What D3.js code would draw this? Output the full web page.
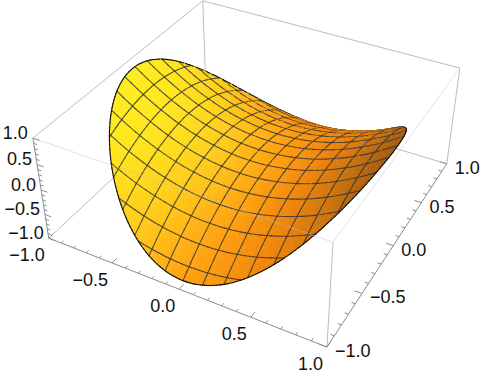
<!DOCTYPE html>
<html>
<head>
<meta charset="utf-8">
<script src="https://cdn.jsdelivr.net/npm/d3@7"></script>
<style>
  html, body { margin: 0; padding: 0; background: #fff; }
  text { font-family: "Liberation Sans", Arial, sans-serif; font-size: 18px; fill: #111; }
</style>
</head>
<body>
<svg width="482" height="375"></svg>
<script>
// values
const majorTicks  = [-1, -0.5, 0, 0.5, 1];
const tickLabels  = ["\u22121.0", "\u22120.5", "0.0", "0.5", "1.0"];
const minorTicks  = [-0.9, -0.8, -0.7, -0.6, -0.4, -0.3, -0.2, -0.1, 0.1, 0.2, 0.3, 0.4, 0.6, 0.7, 0.8, 0.9];
const xMeshLevels = [-0.81, -0.675, -0.54, -0.405, -0.27, -0.135, 0, 0.135, 0.27, 0.405, 0.54, 0.675, 0.81];
const yMeshLevels = [-0.88, -0.75, -0.62, -0.49, -0.36, -0.23, -0.1, 0.03, 0.16, 0.29, 0.42, 0.55, 0.68, 0.81];
const diskRadius  = 0.955;
const shadeStops  = [-0.68, -0.58, -0.48, -0.34, -0.12, 0, 0.22, 0.48, 0.65];
const shadeColors = ["#8c500a", "#aa5f0f", "#cd730c", "#ee840a", "#ffa00f", "#ffb014", "#ffcd19", "#ffe61e", "#ffee20"];

// camera, Mathematica default
const viewPoint = [1.3, -2.4, 2];

const xBox = d3.scaleLinear().domain([-1, 1]).range([-0.5, 0.5]);
const zBox = d3.scaleLinear().domain([-1, 1]).range([-0.2, 0.2]);
const xScreen = d3.scaleLinear().domain([0, 1]).range([257, 1283]);
const yScreen = d3.scaleLinear().domain([0, 1]).range([152, -874]);
const shade = d3.scaleLinear().domain(shadeStops).range(shadeColors).clamp(true);

const norm = v => { const l = Math.hypot(...v); return v.map(d => d / l); };
const dot = (a, b) => a[0]*b[0] + a[1]*b[1] + a[2]*b[2];
const forward = norm(viewPoint.map(d => -d));
const right = norm([forward[1], -forward[0], 0]);
const up = [right[1]*forward[2], -right[0]*forward[2], right[0]*forward[1] - right[1]*forward[0]];
const viewDist = Math.hypot(...viewPoint);

function project(x, y, z){
  const p = [xBox(x), xBox(y), zBox(z)];
  const depth = viewDist + dot(p, forward);
  return { x: xScreen(dot(p, right) / depth), y: yScreen(dot(p, up) / depth), depth: depth };
}

const surfaceZ = (x, y) => x*x - y*y;

// colour follows the normal's x part, with a small penalty for y away from the middle
function shadeParam(x, y){
  const n = norm([-0.8*x, 0.8*y, 1]);
  const w = Math.max(0, Math.min(1, (n[0] + 0.4) / 0.4));
  return n[0] + w * (-0.25*n[1] - 0.7*n[1]*n[1]);
}

const svg = d3.select("svg");
const line = (g, a, b, color, width, opacity) => g.append("line")
    .attr("x1", a.x).attr("y1", a.y).attr("x2", b.x).attr("y2", b.y)
    .attr("stroke", color).attr("stroke-width", width).attr("stroke-opacity", opacity === undefined ? 1 : opacity);

////////////////////////////
// box behind the surface
////////////////////////////
const boxBack = svg.append("g");
const boxColor = "#bdbdbd";
[[[-1,1,1],[-1,1,-1]], [[-1,1,-1],[-1,-1,-1]], [[-1,1,-1],[1,1,-1]],
 [[-1,1,1],[-1,-1,1]], [[-1,1,1],[1,1,1]], [[1,1,1],[1,1,-1]], [[1,-1,1],[1,-1,-1]]]
  .forEach(e => line(boxBack, project(...e[0]), project(...e[1]), boxColor, 1));

////////////////////////////
// surface: cells and mesh sorted together
////////////////////////////
const items = [];
const rSteps = 26, tSteps = 150;
for (let i = 0; i < rSteps; i++){
  for (let j = 0; j < tSteps; j++){
    const r0 = diskRadius * i / rSteps, r1 = diskRadius * (i + 1) / rSteps;
    const t0 = j / tSteps * 2 * Math.PI, t1 = (j + 1) / tSteps * 2 * Math.PI;
    const corners = [[r0,t0],[r1,t0],[r1,t1],[r0,t1]].map(d => [d[0]*Math.cos(d[1]), d[0]*Math.sin(d[1])]);
    const pts = corners.map(d => project(d[0], d[1], surfaceZ(d[0], d[1])));
    const cx = d3.mean(corners, d => d[0]), cy = d3.mean(corners, d => d[1]);
    items.push({ type: "cell", depth: d3.mean(pts, d => d.depth), pts: pts, color: shade(shadeParam(cx, cy)) });
  }
}

const bias = 0.012;
function addSegments(path, color, width, opacity){
  d3.pairs(path).forEach(s => {
    const a = project(s[0][0], s[0][1], surfaceZ(s[0][0], s[0][1]));
    const b = project(s[1][0], s[1][1], surfaceZ(s[1][0], s[1][1]));
    items.push({ type: "seg", depth: (a.depth + b.depth) / 2 - bias, a: a, b: b, color: color, width: width, opacity: opacity });
  });
}

const chord = level => {
  const h = Math.sqrt(diskRadius*diskRadius - level*level);
  return d3.range(0, 41).map(k => -h + 2*h*k/40);
};
xMeshLevels.forEach(level => addSegments(chord(level).map(s => [level, s]), "#333", 1.1, 0.8));
yMeshLevels.forEach(level => addSegments(chord(level).map(s => [s, level]), "#333", 1.1, 0.8));
addSegments(d3.range(0, 241).map(k => [diskRadius*Math.cos(k/240*2*Math.PI), diskRadius*Math.sin(k/240*2*Math.PI)]), "#111", 1.1, 1);

items.sort((a, b) => b.depth - a.depth);
const surface = svg.append("g").attr("class", "surface");
items.forEach(d => {
  if (d.type === "cell"){
    surface.append("polygon")
      .attr("points", d.pts.map(p => p.x.toFixed(2) + "," + p.y.toFixed(2)).join(" "))
      .attr("fill", d.color).attr("stroke", d.color).attr("stroke-width", 0.6);
  } else {
    line(surface, d.a, d.b, d.color, d.width, d.opacity).attr("stroke-linecap", "round");
  }
});

////////////////////////////
// front box edges, over the surface
////////////////////////////
const boxFront = svg.append("g");
[[[-1,-1,1],[1,-1,1]], [[1,-1,1],[1,1,1]]]
  .forEach(e => line(boxFront, project(...e[0]), project(...e[1]), boxColor, 1, 0.45));

////////////////////////////
// axes, ticks, labels
////////////////////////////
const axes = svg.append("g");
const axisColor = "#8c8c8c";
line(axes, project(-1,-1,-1), project(1,-1,-1), axisColor, 1);
line(axes, project(1,-1,-1), project(1,1,-1), axisColor, 1);
line(axes, project(-1,-1,-1), project(-1,-1,1), axisColor, 1);

function drawTicks(values, len){
  values.forEach(v => {
    line(axes, project(v,-1,-1), project(v,-1+len,-1), axisColor, 1);
    line(axes, project(1,v,-1), project(1-len,v,-1), axisColor, 1);
    line(axes, project(-1,-1,v), project(-1+len,-1,v), axisColor, 1);
  });
}
drawTicks(majorTicks, 0.05);
drawTicks(minorTicks, 0.025);

majorTicks.forEach((v, i) => {
  const px = project(v,-1,-1), py = project(1,v,-1), pz = project(-1,-1,v);
  axes.append("text").attr("x", px.x - 4).attr("y", px.y + 23).attr("text-anchor", "end").text(tickLabels[i]);
  axes.append("text").attr("x", py.x + 8).attr("y", py.y + 10).attr("text-anchor", "start").text(tickLabels[i]);
  axes.append("text").attr("x", pz.x - 5).attr("y", pz.y + 1).attr("text-anchor", "end").text(tickLabels[i]);
});
</script>
</body>
</html>
